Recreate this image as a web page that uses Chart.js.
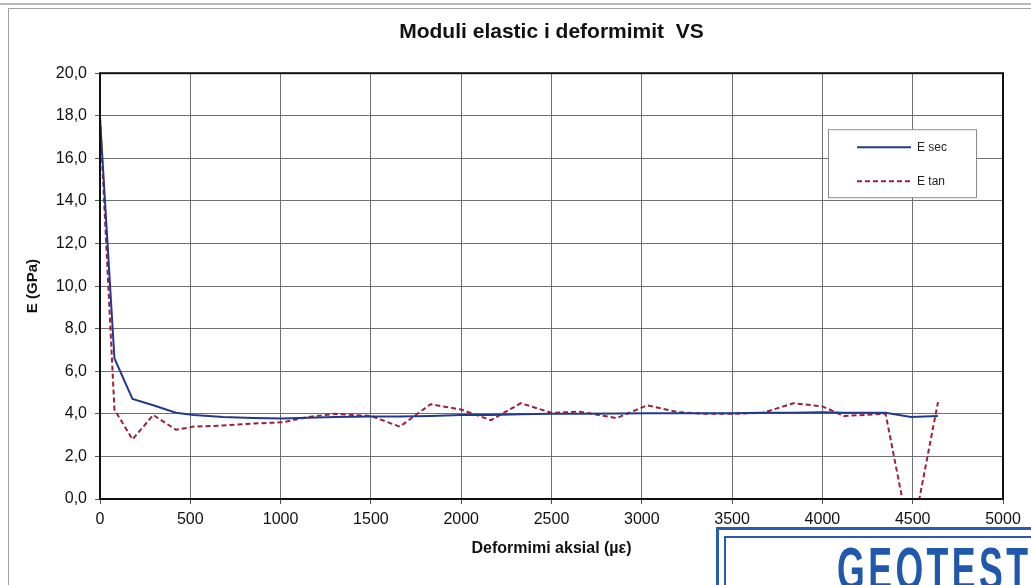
<!DOCTYPE html>
<html>
<head>
<meta charset="utf-8">
<script src="https://cdn.jsdelivr.net/npm/chart.js@4.4.1/dist/chart.umd.min.js"></script>
<style>
  body { margin: 0; background: #fff; }
  #wrap { position: relative; width: 1031px; height: 585px; overflow: hidden; background: #fff; }
  #frameTop { position: absolute; left: 0; top: 3px; width: 1031px; height: 2px; background: #b8b8b8; }
  #frame { position: absolute; left: 8px; top: 8px; width: 1100px; height: 700px; border-left: 1px solid #a0a0a0; border-top: 1px solid #a0a0a0; }
  #chartBox { position: absolute; left: 0; top: 0; width: 1031px; height: 585px; }
  #stamp { position: absolute; left: 716px; top: 527px; width: 400px; height: 100px; border: 3px solid #2a5bb0; }
  #stampIn { position: absolute; left: 5px; top: 6px; width: 400px; height: 100px; border-left: 2px solid #2a5bb0; border-top: 2px solid #2a5bb0; }
  #stampText { position: absolute; left: 118px; top: 8px; font-family: "Liberation Sans", sans-serif; font-weight: bold; font-size: 62px; color: #1f58ad; letter-spacing: 6px; line-height: 62px; transform: scaleX(0.575); transform-origin: 0 0; white-space: nowrap; }
</style>
</head>
<body>
<div id="wrap">
  <div id="frameTop"></div>
  <div id="frame"></div>
  <div id="chartBox"><canvas id="grafico"></canvas></div>
  <div id="stamp"><div id="stampIn"></div><div id="stampText">GEOTEST</div></div>
</div>
<script>
// deformimi aksial (µε), common x for both series
const deformimi = [0, 80, 180, 295, 420, 520, 680, 850, 1010, 1150, 1300, 1500, 1660, 1830, 2000,
    2165, 2330, 2500, 2660, 2860, 3030, 3200, 3350, 3500, 3670, 3840, 4000, 4120, 4350, 4490, 4640];

// E sec (GPa)
const eSec = [17.9, 6.6, 4.7, 4.4, 4.05, 3.95, 3.85, 3.8, 3.78, 3.82, 3.85, 3.87, 3.87, 3.9, 3.95,
    3.95, 3.98, 4.0, 4.0, 4.02, 4.03, 4.03, 4.03, 4.03, 4.05, 4.05, 4.08, 4.05, 4.05, 3.85, 3.9];

// E tan (GPa)
const eTan = [17.9, 4.2, 2.8, 3.95, 3.25, 3.4, 3.45, 3.55, 3.6, 3.85, 4.0, 3.9, 3.4, 4.45, 4.2,
    3.7, 4.5, 4.05, 4.1, 3.8, 4.4, 4.08, 4.0, 4.0, 4.05, 4.5, 4.35, 3.9, 4.0, -2.05, 4.55];

const etiketat = ['E sec', 'E tan'];
const ngjyrat = ['#233a8c', '#9c1f3c'];

const xMin = 0, xMax = 5000, xStep = 500;
const yMin = 0, yMax = 20, yStep = 2;

function pika(xs, ys) {
    return xs.map((x, i) => ({ x: x, y: ys[i] }));
}

// legjenda brenda zones se grafikut, me kuti
const legjendaKuti = {
    id: 'legjendaKuti',
    afterDatasetsDraw(chart) {
        const ctx = chart.ctx;
        const a = chart.chartArea;
        const left = a.right - 175, top = a.top + 56, w = 148, h = 68;
        ctx.save();
        ctx.fillStyle = '#fff';
        ctx.fillRect(left, top, w, h);
        ctx.strokeStyle = '#8a8a8a';
        ctx.lineWidth = 1;
        ctx.strokeRect(left + 0.5, top + 0.5, w, h);
        chart.data.datasets.forEach((ds, i) => {
            const y = top + 18 + i * 34;
            ctx.beginPath();
            ctx.strokeStyle = ds.borderColor;
            ctx.lineWidth = 2;
            ctx.setLineDash(ds.borderDash || []);
            ctx.moveTo(left + 29, y);
            ctx.lineTo(left + 83, y);
            ctx.stroke();
            ctx.setLineDash([]);
            ctx.fillStyle = '#222';
            ctx.font = '12px "Liberation Sans", Arial, sans-serif';
            ctx.textBaseline = 'middle';
            ctx.fillText(ds.label, left + 89, y);
        });
        ctx.restore();
    }
};

// korniza e zeze rreth zones
const korniza = {
    id: 'korniza',
    afterDatasetsDraw(chart) {
        const ctx = chart.ctx;
        const a = chart.chartArea;
        ctx.save();
        ctx.strokeStyle = '#111';
        ctx.lineWidth = 2;
        ctx.strokeRect(a.left, a.top, a.right - a.left, a.bottom - a.top);
        ctx.restore();
    }
};

const fontBaze = '"Liberation Sans", Arial, sans-serif';

new Chart(document.getElementById('grafico'), {
    type: 'line',
    data: {
        datasets: [{
            label: etiketat[0],
            data: pika(deformimi, eSec),
            borderColor: ngjyrat[0],
            borderWidth: 2,
            pointRadius: 0,
            tension: 0
        }, {
            label: etiketat[1],
            data: pika(deformimi, eTan),
            borderColor: ngjyrat[1],
            borderWidth: 2,
            borderDash: [5, 3],
            pointRadius: 0,
            tension: 0
        }]
    },
    options: {
        responsive: true,
        maintainAspectRatio: false,
        animation: false,
        events: [],
        layout: { padding: { left: 16, right: 28, top: 0, bottom: 23 } },
        plugins: {
            legend: { display: false },
            tooltip: { enabled: false },
            title: {
                display: true,
                fullSize: false,
                text: 'Moduli elastic i deformimit  VS',
                color: '#111',
                font: { family: fontBaze, size: 21, weight: 'bold' },
                padding: { top: 20, bottom: 28 }
            }
        },
        scales: {
            x: {
                type: 'linear',
                min: xMin,
                max: xMax,
                afterFit(scale) { scale.height = 63; },
                ticks: {
                    stepSize: xStep,
                    color: '#111',
                    padding: 6,
                    maxRotation: 0,
                    font: { family: fontBaze, size: 16 },
                    callback: v => String(v)
                },
                grid: { color: '#707070', lineWidth: 1, tickLength: 5, tickColor: '#555' },
                border: { display: false },
                title: {
                    display: true,
                    text: 'Deformimi aksial (µε)',
                    color: '#111',
                    font: { family: fontBaze, size: 16, weight: 'bold' },
                    padding: { top: 4, bottom: 4 }
                }
            },
            y: {
                min: yMin,
                max: yMax,
                afterFit(scale) { scale.width = 84; },
                ticks: {
                    stepSize: yStep,
                    color: '#111',
                    padding: 8,
                    font: { family: fontBaze, size: 16 },
                    callback: v => v.toFixed(1).replace('.', ',')
                },
                grid: { color: '#707070', lineWidth: 1, tickLength: 5, tickColor: '#555' },
                border: { display: false },
                title: {
                    display: true,
                    text: 'E (GPa)',
                    color: '#111',
                    font: { family: fontBaze, size: 15, weight: 'bold' },
                    padding: { top: 8, bottom: 0 }
                }
            }
        }
    },
    plugins: [korniza, legjendaKuti]
});
</script>
</body>
</html>
